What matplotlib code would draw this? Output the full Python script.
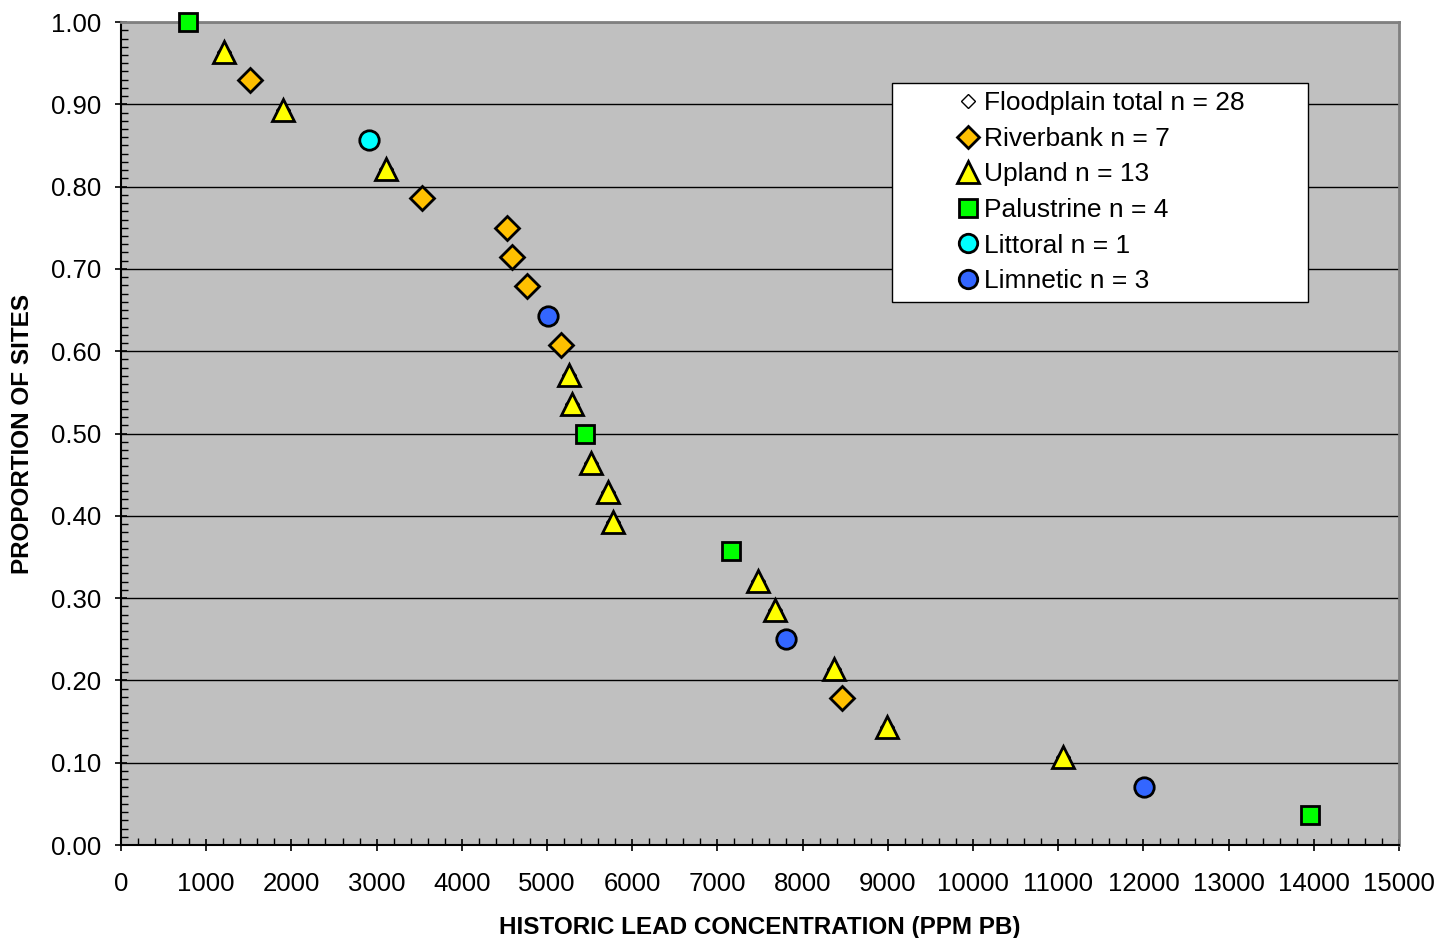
import matplotlib
matplotlib.use("Agg")
import matplotlib.pyplot as plt
from matplotlib.patches import Rectangle
from matplotlib.ticker import MultipleLocator, FormatStrFormatter

plt.rcParams["font.family"] = ["Liberation Sans", "DejaVu Sans"]

# historic lead (ppm Pb) and proportion of sites
riverbank_x = [1510, 3530, 4530, 4590, 4770, 5160, 8460]
riverbank_y = [0.929, 0.786, 0.750, 0.714, 0.679, 0.607, 0.179]
upland_x = [1210, 1900, 3110, 5260, 5290, 5520, 5720, 5780, 7480, 7680, 8370, 8990, 11060]
upland_y = [0.964, 0.893, 0.821, 0.571, 0.536, 0.464, 0.429, 0.393, 0.321, 0.286,
            0.214, 0.143, 0.107]
palustrine_x = [790, 5450, 7160, 13950]
palustrine_y = [1.000, 0.500, 0.357, 0.036]
littoral_x = [2910]
littoral_y = [0.857]
limnetic_x = [5010, 7810, 12010]
limnetic_y = [0.643, 0.250, 0.071]

total_x = riverbank_x + upland_x + palustrine_x + littoral_x + limnetic_x
total_y = riverbank_y + upland_y + palustrine_y + littoral_y + limnetic_y

fig = plt.figure(figsize=(14.37, 9.38), dpi=100)
ax = fig.add_axes([0.0842, 0.0991, 0.8894, 0.8774])
ax.set_facecolor("#C0C0C0")

kw = dict(ls="none", mec="black", mew=2, zorder=3, clip_on=False)
ax.plot(total_x, total_y, "D", ms=7, mfc="white", mec="black", mew=1,
        ls="none", label="Floodplain total n = 28", zorder=2)
ax.plot(riverbank_x, riverbank_y, "D", ms=12, mfc="#FFC000",
        label="Riverbank n = 7", **kw)
ax.plot(upland_x, upland_y, "^", ms=16, mfc="#FFFF00", label="Upland n = 13", **kw)
ax.plot(palustrine_x, palustrine_y, "s", ms=13, mfc="#00FF00",
        label="Palustrine n = 4", **kw)
ax.plot(littoral_x, littoral_y, "o", ms=14, mfc="#00FFFF", label="Littoral n = 1", **kw)
ax.plot(limnetic_x, limnetic_y, "o", ms=14, mfc="#3366FF", label="Limnetic n = 3", **kw)

ax.set_xlim(0, 15000)
ax.set_ylim(0, 1.0)
ax.xaxis.set_major_locator(MultipleLocator(1000))
ax.xaxis.set_minor_locator(MultipleLocator(200))
ax.yaxis.set_major_locator(MultipleLocator(0.1))
ax.yaxis.set_minor_locator(MultipleLocator(0.01))
ax.yaxis.set_major_formatter(FormatStrFormatter("%.2f"))
ax.grid(axis="y", which="major", color="black", lw=1)
ax.set_axisbelow(True)
ax.tick_params(which="major", direction="inout", length=9, width=1.2,
               labelsize=18.5)
ax.tick_params(axis="x", which="major", pad=15)
ax.tick_params(axis="y", which="major", pad=10)
ax.tick_params(which="minor", direction="in", length=5, width=1)

for s in ("top", "right"):
    ax.spines[s].set_color("#808080")
    ax.spines[s].set_linewidth(2)
for s in ("left", "bottom"):
    ax.spines[s].set_color("black")
    ax.spines[s].set_linewidth(1.5)

ax.set_xlabel("HISTORIC LEAD CONCENTRATION (PPM PB)", fontsize=17.5,
              fontweight="bold", labelpad=14)
ax.set_ylabel("PROPORTION OF SITES", fontsize=17.5, fontweight="bold", labelpad=12)

# legend box drawn by hand so the entries can sit inset from its left edge
ax.add_patch(Rectangle((0.603, 0.660), 0.326, 0.266, transform=ax.transAxes,
                       facecolor="white", edgecolor="black", lw=1, zorder=4))
leg = ax.legend(loc="upper left", bbox_to_anchor=(0.6526, 0.916), frameon=False,
                fontsize=19, handletextpad=0.1, handlelength=1.0, borderpad=0,
                labelspacing=0.44, borderaxespad=0, markerscale=0.95)
leg.set_zorder(5)

fig.savefig("out.png", dpi=100)
